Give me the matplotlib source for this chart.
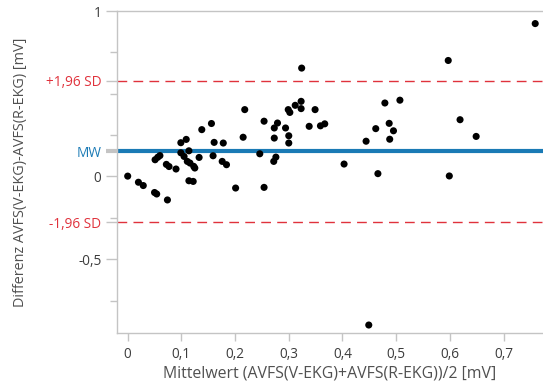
import matplotlib
matplotlib.use("Agg")
import matplotlib.pyplot as plt

plt.rcParams['font.family'] = ['Open Sans', 'DejaVu Sans']

# Mean of both methods (x) and their difference (y), in mV
mittelwert = [0.000, 0.020, 0.029, 0.050, 0.054, 0.074, 0.051, 0.056, 0.060, 0.072,
              0.077, 0.090, 0.099, 0.109, 0.099, 0.105, 0.114, 0.111, 0.116, 0.123,
              0.125, 0.114, 0.122, 0.133, 0.138, 0.156, 0.161, 0.178, 0.159, 0.176,
              0.184, 0.201, 0.215, 0.218, 0.246, 0.254, 0.254, 0.273, 0.279, 0.273,
              0.276, 0.272, 0.294, 0.300, 0.300, 0.299, 0.302, 0.312, 0.323, 0.323,
              0.324, 0.349, 0.338, 0.359, 0.367, 0.403, 0.466, 0.444, 0.462, 0.479,
              0.507, 0.487, 0.495, 0.488, 0.597, 0.619, 0.649, 0.599, 0.759, 0.449]
differenz = [0.002, -0.035, -0.055, -0.097, -0.106, -0.142, 0.101, 0.116, 0.126, 0.073,
             0.060, 0.045, 0.204, 0.224, 0.143, 0.121, 0.155, 0.091, 0.081, 0.061,
             0.051, -0.026, -0.030, 0.115, 0.283, 0.320, 0.206, 0.202, 0.125, 0.091,
             0.071, -0.070, 0.237, 0.404, 0.137, -0.066, 0.334, 0.293, 0.323, 0.232,
             0.117, 0.091, 0.293, 0.246, 0.202, 0.404, 0.387, 0.430, 0.454, 0.410,
             0.655, 0.404, 0.303, 0.306, 0.318, 0.075, 0.017, 0.213, 0.289, 0.444,
             0.461, 0.321, 0.276, 0.225, 0.701, 0.343, 0.242, 0.003, 0.924, -0.898]

# Mean difference and limits of agreement
mw = 0.151
sd_oben = 0.577
sd_unten = -0.276

x_ticks = [0, 0.1, 0.2, 0.3, 0.4, 0.5, 0.6, 0.7]
x_ticklabels = ["0", "0,1", "0,2", "0,3", "0,4", "0,5", "0,6", "0,7"]
y_ticks = [1, 0, -0.5]
y_ticklabels = ["1", "0", "-0,5"]
y_minor = [0.75, 0.5, 0.25, -0.25, -0.75]

rot = "#e0323c"
blau = "#1a7ab5"
grau_achse = "#c4c4c4"
text_farbe = "#3c3c3c"

fig = plt.figure(figsize=(5.43, 3.85), dpi=100)
ax = fig.add_axes([0.2149, 0.1343, 0.7851, 0.8371])

ax.axhline(sd_oben, color=rot, lw=1.0, linestyle=(0, (7, 4.5)), zorder=1)
ax.axhline(sd_unten, color=rot, lw=1.0, linestyle=(0, (7, 4.5)), zorder=1)
ax.axhline(mw, color=blau, lw=3.0, zorder=2)
ax.scatter(mittelwert, differenz, s=26, color="black", edgecolors="none", zorder=3)

ax.set_xlim(-0.0205, 0.7735)
ax.set_ylim(-0.948, 1.0)

for side in ["left", "bottom", "top"]:
    ax.spines[side].set_color(grau_achse)
    ax.spines[side].set_linewidth(1.0)
ax.spines["right"].set_visible(False)

ax.set_xticks(x_ticks)
ax.set_xticklabels(x_ticklabels)
ax.tick_params(axis="x", length=6, width=1, color=grau_achse, labelsize=9.8,
               labelcolor=text_farbe, pad=4)

all_y = y_ticks + [mw, sd_oben, sd_unten]
all_lbl = y_ticklabels + ["MW", "+1,96 SD", "-1,96 SD"]
ax.set_yticks(all_y)
ax.set_yticklabels(all_lbl)
ax.set_yticks(y_minor, minor=True)
ax.tick_params(axis="y", which="major", length=8, width=1, color=grau_achse,
               labelsize=9.8, labelcolor=text_farbe, pad=3)
ax.tick_params(axis="y", which="minor", length=5, width=1, color=grau_achse)

farben = [text_farbe] * 3 + [blau, rot, rot]
ticks = ax.yaxis.get_major_ticks()
for tick, lbl, farbe in zip(ticks, ax.get_yticklabels(), farben):
    lbl.set_color(farbe)
    tick.tick1line.set_color(farbe if farbe != text_farbe else grau_achse)
ticks[3].tick1line.set_markeredgewidth(3.0)

ax.set_xlabel("Mittelwert (AVFS(V-EKG)+AVFS(R-EKG))/2 [mV]", fontsize=11.4,
              color="#505050")
ax.set_ylabel("Differenz AVFS(V-EKG)-AVFS(R-EKG) [mV]", fontsize=10.4,
              color="#505050")
ax.xaxis.set_label_coords(0.5, -0.100)
ax.yaxis.set_label_coords(-0.207, 0.5)

fig.savefig("out.png", dpi=100)
